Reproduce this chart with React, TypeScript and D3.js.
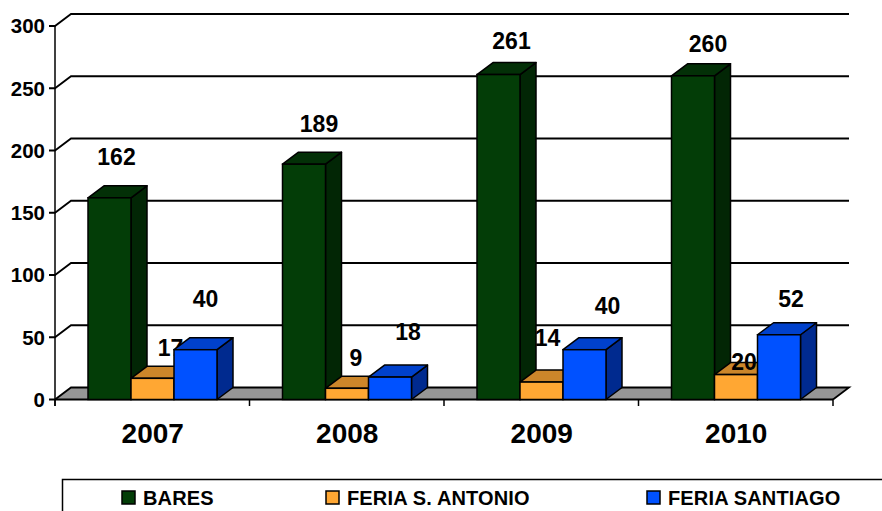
import React from "react";
import * as d3 from "d3";

const years = ["2007", "2008", "2009", "2010"];
const seriesNames = ["BARES", "FERIA S. ANTONIO", "FERIA SANTIAGO"];
const bares = [162, 189, 261, 260];
const feriaAntonio = [17, 9, 14, 20];
const feriaSantiago = [40, 18, 40, 52];
const yTicks = [0, 50, 100, 150, 200, 250, 300];

const W = 882, H = 511;
const FONT = "'Liberation Sans', Arial, sans-serif";
const DX = 16, DY = 12;
const seriesValues = [bares, feriaAntonio, feriaSantiago];
const colours = [
  { front: "#033d07", top: "#033007", side: "#022605" },
  { front: "#ffa733", top: "#cc862a", side: "#99641f" },
  { front: "#0051ff", top: "#0041cc", side: "#002a8f" },
];
// hand-placed data labels in the source chart: offsets from the bar top by series and year
const labelLift = [
  [41, 40, 34, 32],
  [31, 31, 44, 13],
  [51, 45, 44, 36],
];
const labelShift = [
  [7, 15, 13, 15],
  [18, 9, 6, 8],
  [10, 18, 23, 12],
];

const x = d3.scaleBand<string>().domain(years).range([55, 833]);
const y = d3.scaleLinear().domain([0, 300]).range([399.5, 26]);
const inner = d3.scaleBand<string>().domain(seriesNames).range([33, 162]);

export default function App() {
  const line = d3.line();
  const legendX = [122, 326, 647];
  return (
    <svg width={W} height={H} style={{ position: "absolute", left: 0, top: 0, background: "#fff" }} fontFamily={FONT}>
      {/* floor */}
      <path
        d={line([[55, y(0)], [55 + DX, y(0) - DY], [833 + DX, y(0) - DY], [833, y(0)]]) + "Z"}
        fill="#969696"
      />
      {/* gridlines */}
      {yTicks.map((t) => (
        <g key={t}>
          <path
            d={line([[49, y(t)], [55, y(t)], [55 + DX, y(t) - DY], [833 + DX, y(t) - DY], ...(t === 0 ? ([[833, y(t)]] as [number, number][]) : [])]) as string}
            fill="none"
            stroke="#000"
            strokeWidth={1.8}
          />
          <text x={45} y={y(t)} dy="0.36em" textAnchor="end" fontSize={20.5} fontWeight="bold" fill="#000">
            {t}
          </text>
        </g>
      ))}
      {/* axes */}
      <line x1={55} x2={55} y1={y(300)} y2={406} stroke="#000" strokeWidth={1.5} />
      <line x1={55} x2={833} y1={y(0)} y2={y(0)} stroke="#000" strokeWidth={2} />
      {[...years.map((c) => x(c) as number), 833].map((v) => (
        <line key={v} x1={v} x2={v} y1={y(0)} y2={406} stroke="#000" strokeWidth={1.5} />
      ))}
      {/* bars */}
      {years.map((yr, i) => (
        <g key={yr}>
          {seriesNames.map((s, k) => {
            const v = seriesValues[k][i];
            const x0 = (x(yr) as number) + (inner(s) as number);
            const bw = inner.bandwidth();
            const x1 = x0 + bw;
            const t = y(v), b = y(0);
            const c = colours[k];
            return (
              <g key={s}>
                <path
                  d={line([[x1, t], [x1 + DX, t - DY], [x1 + DX, b - DY], [x1, b]]) + "Z"}
                  fill={c.side} stroke="#000" strokeWidth={1.5} strokeLinejoin="round"
                />
                <path
                  d={line([[x0, t], [x0 + DX, t - DY], [x1 + DX, t - DY], [x1, t]]) + "Z"}
                  fill={c.top} stroke="#000" strokeWidth={1.5} strokeLinejoin="round"
                />
                <rect x={x0} y={t} width={bw} height={b - t} fill={c.front} stroke="#000" strokeWidth={1.5} />
                <text
                  x={x0 + bw / 2 + labelShift[k][i]}
                  y={t - labelLift[k][i]}
                  dy="0.36em"
                  textAnchor="middle"
                  fontSize={23}
                  fontWeight="bold"
                  fill="#000"
                >
                  {v}
                </text>
              </g>
            );
          })}
          <text
            x={(x(yr) as number) + x.bandwidth() / 2 + 0.5}
            y={433}
            dy="0.36em"
            textAnchor="middle"
            fontSize={28}
            fontWeight="bold"
            fill="#000"
          >
            {yr}
          </text>
        </g>
      ))}
      {/* legend */}
      <rect x={62.5} y={479.5} width={W} height={60} fill="#fff" stroke="#000" strokeWidth={1.5} />
      {seriesNames.map((s, k) => (
        <g key={s}>
          <rect x={legendX[k]} y={491} width={13} height={13} fill={colours[k].front} stroke="#000" strokeWidth={1.5} />
          <text x={legendX[k] + 21} y={497.5} dy="0.36em" fontSize={20} fontWeight="bold" letterSpacing={0.15} fill="#000">
            {s}
          </text>
        </g>
      ))}
    </svg>
  );
}
